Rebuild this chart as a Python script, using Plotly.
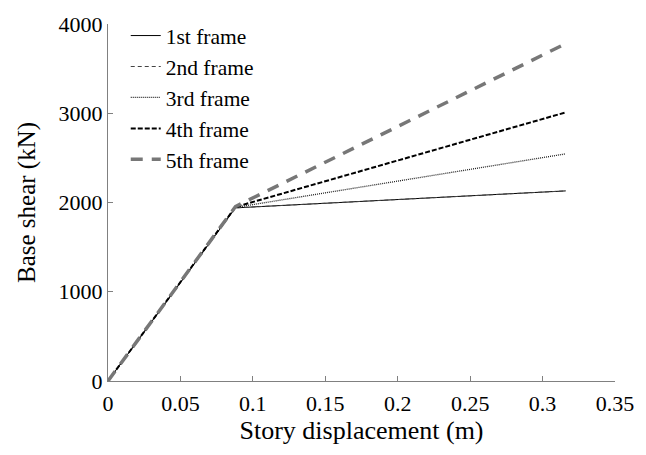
import plotly.graph_objects as go

disp = [0.0, 0.088, 0.316]
frame1 = [0, 1940, 2130]
frame2 = [0, 1940, 2130]
frame3 = [0, 1945, 2545]
frame4 = [0, 1950, 3010]
frame5 = [0, 1955, 3780]
names = ["1st frame", "2nd frame", "3rd frame", "4th frame", "5th frame"]
x_ticks = [0, 0.05, 0.1, 0.15, 0.2, 0.25, 0.3, 0.35]
x_labels = ["0", "0.05", "0.1", "0.15", "0.2", "0.25", "0.3", "0.35"]
y_ticks = [0, 1000, 2000, 3000, 4000]

styles = [
    dict(color="#000000", width=1, dash="solid"),
    dict(color="#444444", width=1, dash="4px,3px"),
    dict(color="#222222", width=1.3, dash="1px,1px"),
    dict(color="#000000", width=2, dash="5px,2px"),
    dict(color="#777777", width=3.5, dash="12px,9px"),
]

fig = go.Figure()
for name, ys, st in zip(names, [frame1, frame2, frame3, frame4, frame5], styles):
    fig.add_trace(go.Scatter(x=disp, y=ys, mode="lines", name=name, line=st))

font = "Liberation Serif, Times New Roman, serif"
fig.update_layout(
    width=646, height=455,
    margin=dict(l=108, r=21, t=22, b=74),
    plot_bgcolor="white", paper_bgcolor="white",
    font=dict(family=font, size=22, color="black"),
    legend=dict(x=0.035, y=1.025, xanchor="left", yanchor="top",
                bgcolor="rgba(0,0,0,0)", font=dict(size=21.5),
                tracegroupgap=0, itemwidth=30),
    xaxis=dict(range=[0, 0.35], tickvals=x_ticks, ticktext=x_labels,
               showgrid=False, zeroline=False, showline=True,
               linecolor="#808080", linewidth=1, ticks="inside", ticklen=5,
               tickcolor="#808080", ticklabelstandoff=3,
               title=dict(text="Story displacement (m)", font=dict(size=26), standoff=5)),
    yaxis=dict(range=[0, 4000], tickvals=y_ticks,
               showgrid=False, zeroline=False, showline=True,
               linecolor="#808080", linewidth=1, ticks="inside", ticklen=5,
               tickcolor="#808080",
               title=dict(text="Base shear (kN)", font=dict(size=25), standoff=15)),
)
fig.write_html("out.html")
